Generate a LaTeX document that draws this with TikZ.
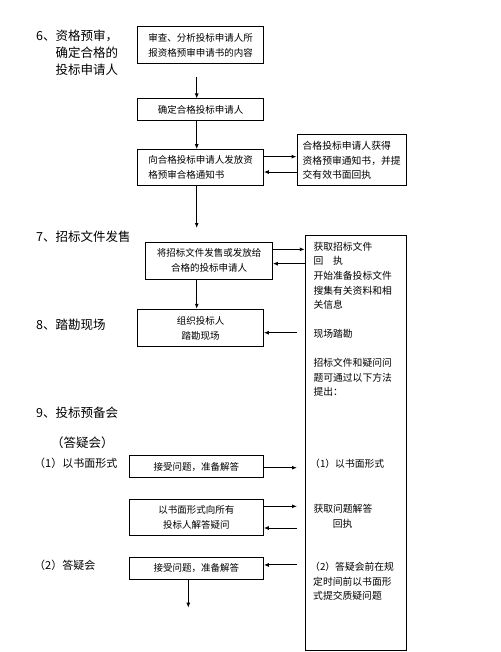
\documentclass[tikz,border=0pt]{standalone}
\usepackage{fontspec}
\setmainfont{Noto Sans CJK SC}
\usetikzlibrary{arrows.meta}

\begin{document}
\begin{tikzpicture}[x = 1pt, y = -1pt,
  box/.style = {draw, line width = 1pt, inner sep = 0pt, align = center,
    font = \fontsize{9.5}{15}\selectfont},
  lab/.style = {anchor = west, inner sep = 0pt, align = left,
    font = \fontsize{12.5}{17}\selectfont},
  way/.style = {lab, font = \fontsize{11}{15}\selectfont},
  note/.style = {anchor = west, inner sep = 0pt, align = left,
    font = \fontsize{9.8}{14.6}\selectfont},
  arr/.style = {line width = 1pt, -{Latex[length = 5pt, width = 4pt]}}]

\useasboundingbox (0, 0) rectangle (500, 652);

% left column labels
\node [lab] (s6) at (36, 53) {6、资格预审，\\\phantom{6、}确定合格的\\\phantom{6、}投标申请人};
\node [lab] (s7) at (36, 237) {7、招标文件发售};
\node [lab] (s8) at (36, 325) {8、踏勘现场};
\node [lab] (s9) at (36, 412.7) {9、投标预备会};
\node [lab] (s9a) at (51, 442.3) {（答疑会）};
\node [way] (w1) at (34, 463.3) {（1）以书面形式};
\node [way] (w2) at (34, 565.7) {（2）答疑会};

% boxes
\node [box, minimum width = 125.6pt, minimum height = 36.6pt, align = left] (check) at (200.5, 45)
  {审查、分析投标申请人所\\报资格预审申请书的内容};
\node [box, minimum width = 125.6pt, minimum height = 22pt] (confirm) at (200.5, 110) {确定合格投标申请人};
\node [box, minimum width = 125.6pt, minimum height = 36.3pt, align = left] (notify) at (200.5, 167.85)
  {向合格投标申请人发放资\\格预审合格通知书};
\node [box, minimum width = 109.3pt, minimum height = 51pt, align = left,
  font = \fontsize{9.8}{14.5}\selectfont] (reply) at (351.65, 160.5)
  {合格投标申请人获得\\资格预审通知书，并提\\交有效书面回执};
\node [box, minimum width = 126.6pt, minimum height = 36.7pt] (sell) at (209, 260.65)
  {将招标文件发售或发放给\\合格的投标申请人};
\node [box, minimum width = 125.6pt, minimum height = 37.4pt] (survey) at (200.5, 328)
  {组织投标人\\踏勘现场};
\node [box, minimum width = 134pt, minimum height = 21.6pt] (accept) at (196.3, 466.5) {接受问题，准备解答};
\node [box, minimum width = 134pt, minimum height = 36pt] (answer) at (196.3, 517.3)
  {以书面形式向所有\\投标人解答疑问};
\node [box, minimum width = 134pt, minimum height = 21.7pt] (meet) at (196.3, 568.15) {接受问题，准备解答};
\node [box, minimum width = 101pt, minimum height = 415.5pt] (bidder) at (355.8, 442.75) {};

% texts in the bidder column
\node [note] (t1) at (313.3, 275.8) {获取招标文件\\回　执\\开始准备投标文件\\搜集有关资料和相\\关信息};
\node [note] (t2) at (313.3, 334) {现场踏勘};
\node [note] (t3) at (313.3, 377.5) {招标文件和疑问问\\题可通过以下方法\\提出：};
\node [note] (t4) at (310, 464) {（1）以书面形式};
\node [note] (t5) at (313.3, 508.7) {获取问题解答};
\node [note] (t6) at (332.7, 523.3) {回执};
\node [note] (t7) at (310, 581.3) {（2）答疑会前在规\\\hspace*{3pt}定时间前以书面形\\\hspace*{3pt}式提交质疑问题};

% free ends
\coordinate (top) at (196.7, 77);
\coordinate (mid) at (196.7, 228);
\coordinate (gap) at (297, 0);
\coordinate (end) at (188.3, 607.7);

\draw [arr] (top) -- (top |- confirm.north);
\draw [arr] (top |- confirm.south) -- (top |- notify.north);
\draw [arr] (top |- notify.south) -- (mid);
\draw [arr] ([yshift = 11.2pt]notify.east) -- ([yshift = 11.2pt]notify.east -| reply.west);
\draw [arr] ([yshift = -4.2pt]notify.east -| reply.west) -- ([yshift = -4.2pt]notify.east);
\draw [arr] ([yshift = 11.3pt]sell.east) -- ([yshift = 11.3pt]sell.east -| bidder.west);
\draw [arr] ([yshift = -3pt]sell.east -| bidder.west) -- ([yshift = -3pt]sell.east);
\draw [arr] (top |- sell.south) -- (top |- survey.north);
\draw [arr] ([yshift = -4.7pt]survey.east -| gap) -- ([yshift = -4.7pt]survey.east);
\draw [arr] ([yshift = -1.2pt]accept.east) -- ([yshift = -1.2pt]accept.east -| gap);
\draw [arr] ([yshift = 11pt]answer.east) -- ([yshift = 11pt]answer.east -| gap);
\draw [arr] ([yshift = -10.7pt]answer.east -| gap) -- ([yshift = -10.7pt]answer.east);
\draw [arr] ([yshift = 3.2pt]meet.east -| gap) -- ([yshift = 3.2pt]meet.east);
\draw [arr] (end |- meet.south) -- (end);

\end{tikzpicture}
\end{document}
